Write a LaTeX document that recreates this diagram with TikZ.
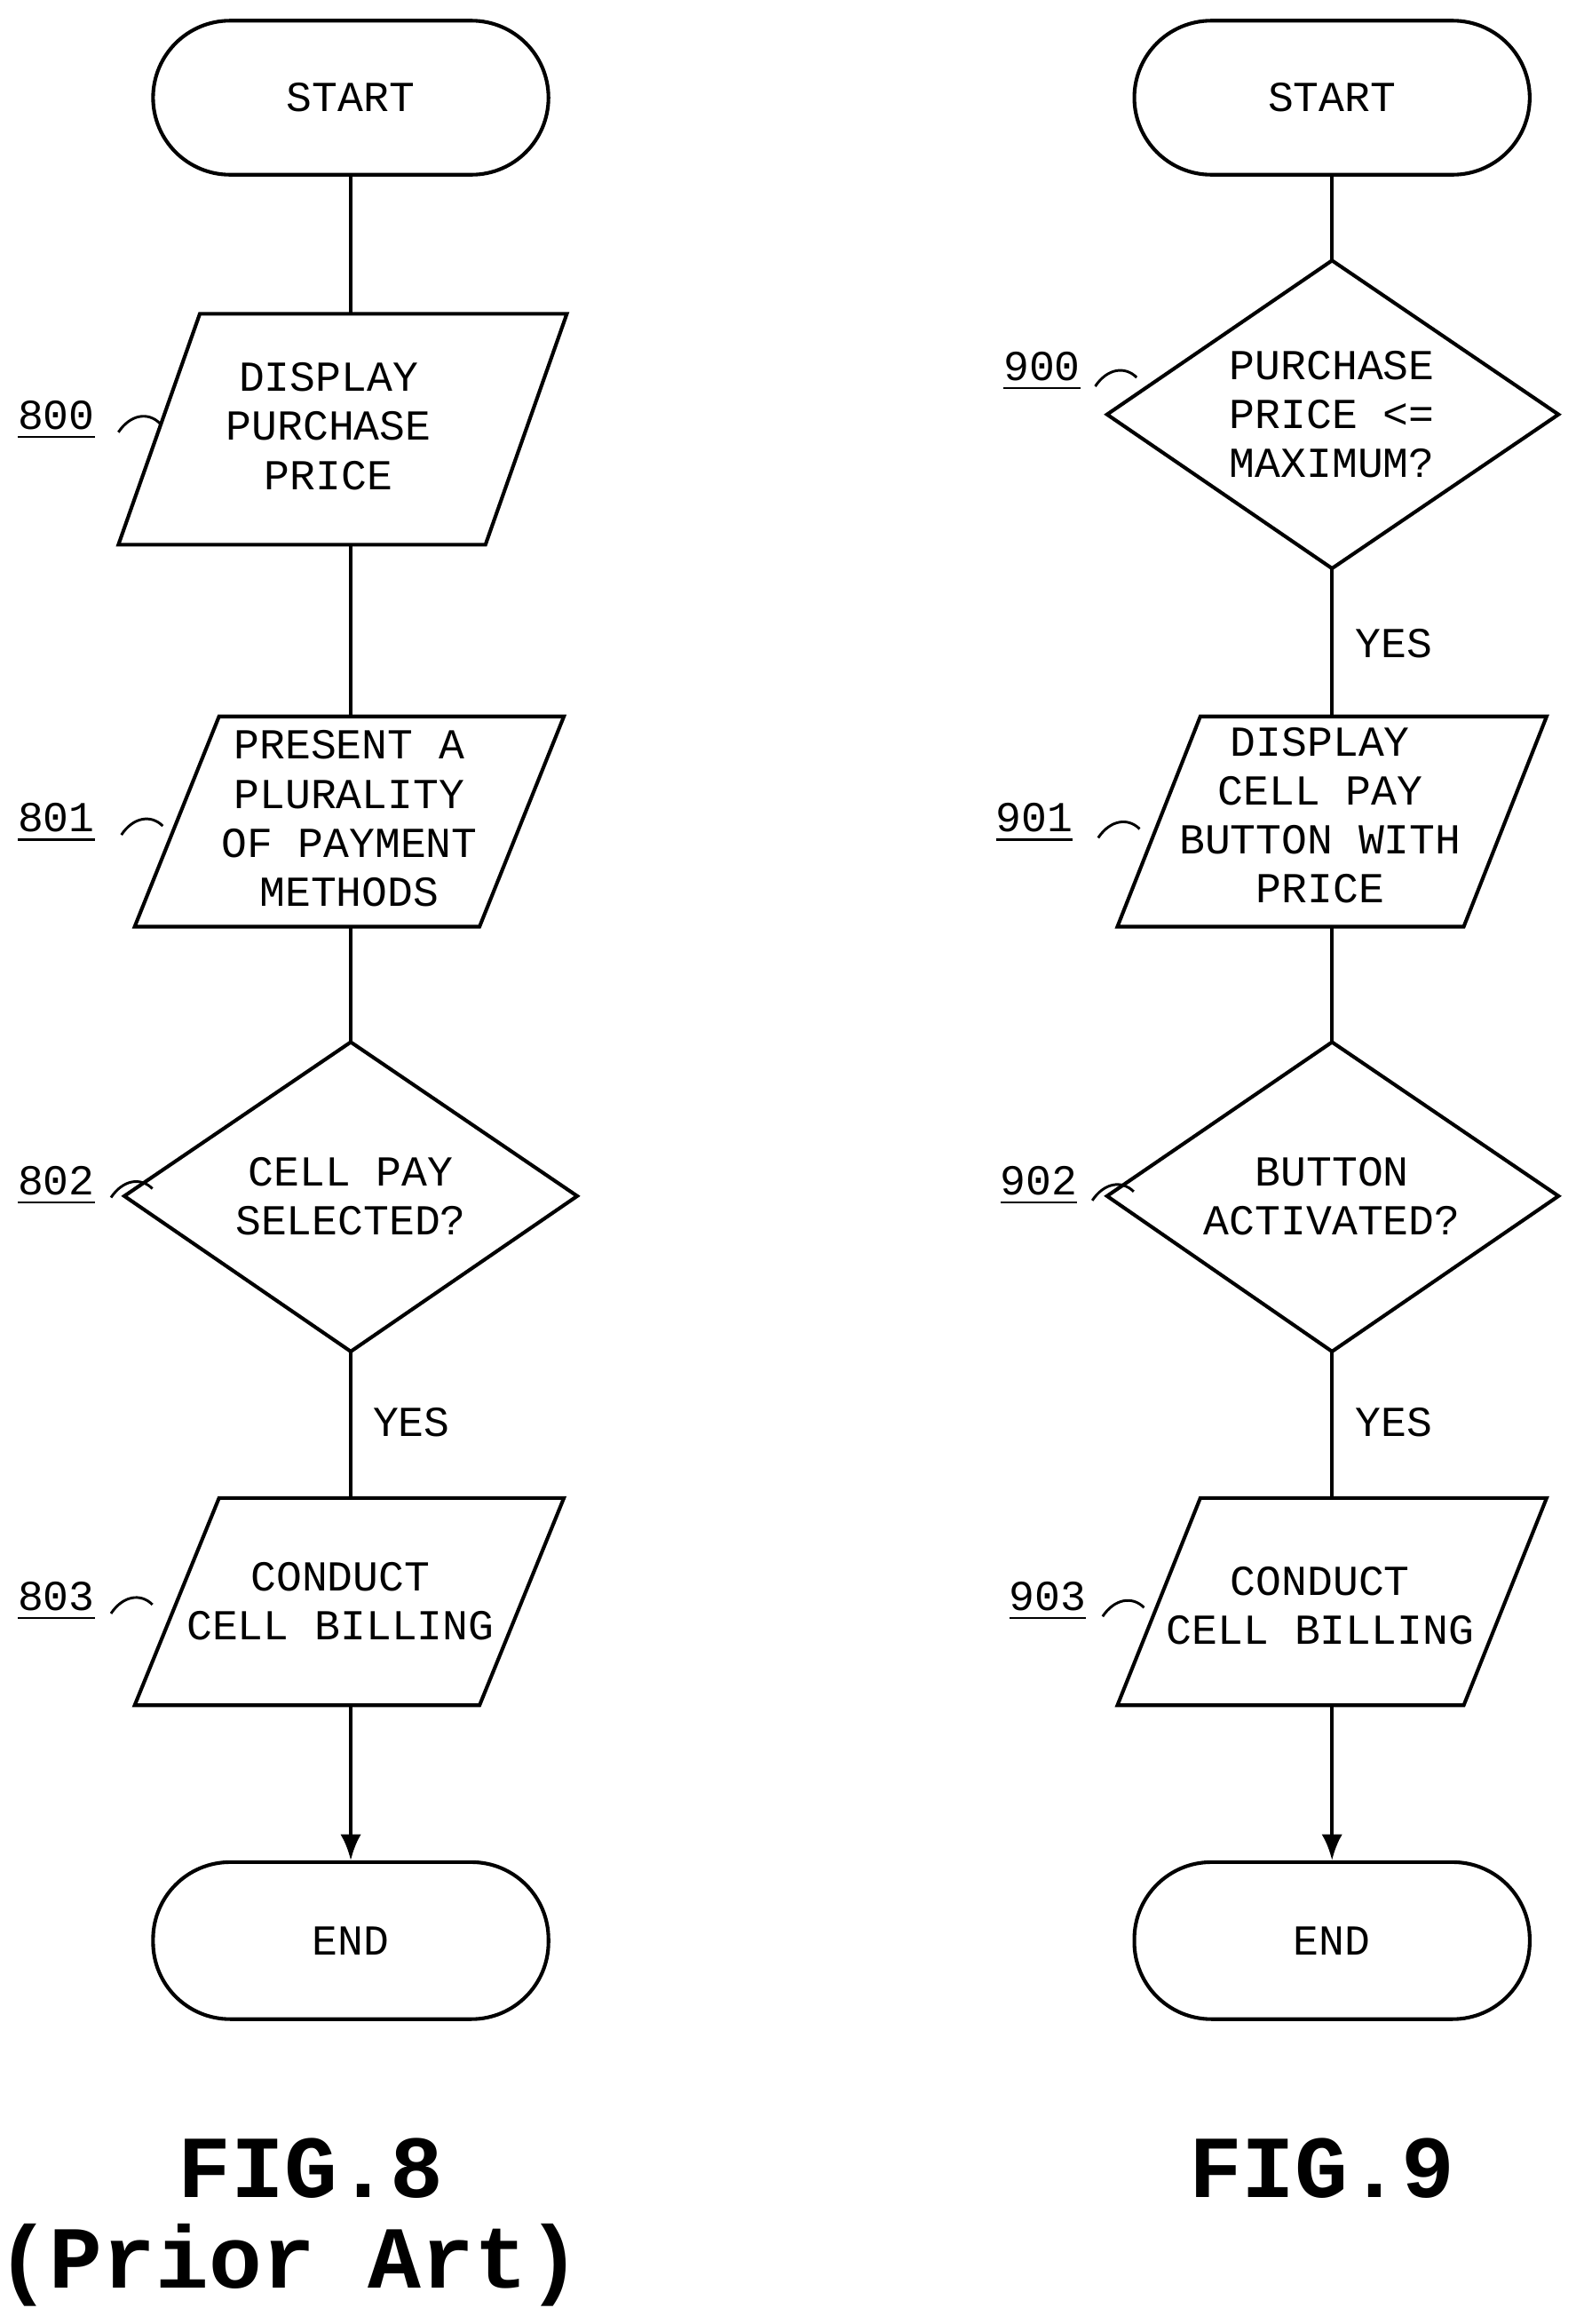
\documentclass[tikz,border=0pt]{standalone}
\usepackage{fontspec}
\setmainfont{Liberation Mono}
\usetikzlibrary{arrows.meta}
\begin{document}
\begin{tikzpicture}[x=0.01cm,y=-0.01cm,
  box/.style={draw,line width=0.7pt},
  txt/.style={font=\fontsize{8.2}{9.4}\selectfont,align=center,inner sep=0pt},
  lab/.style={font=\fontsize{8.2}{9.4}\selectfont,inner sep=1pt},
  fig/.style={font=\bfseries\fontsize{17}{20}\selectfont,inner sep=0pt},
  ln/.style={line width=0.7pt},
  sq/.style={line width=0.5pt}]
\useasboundingbox (0,0) rectangle (1070,1570);
% left column
\node[box,txt,rounded corners=52\pgflinewidth*0+0.52cm,minimum width=2.67cm,minimum height=1.04cm] (s8) at (237,66) {START};
\draw[box] (135,212) coordinate (p0t) -- (383,212) -- (328,368) -- (80,368) -- cycle;
\coordinate (p0t) at (237,212); \coordinate (p0b) at (237,368);
\node[txt] (t800) at (222,288) {DISPLAY\\PURCHASE\\PRICE};
\draw[box] (148,484) -- (381,484) -- (324,626) -- (91,626) -- cycle;
\coordinate (p1t) at (237,484); \coordinate (p1b) at (237,626);
\node[txt] (t801) at (236,553) {PRESENT A\\PLURALITY\\OF PAYMENT\\METHODS};
\draw[box] (237,704) coordinate (d2t) -- (390,808) -- (237,913) coordinate (d2b) -- (84,808) -- cycle;
\node[txt] (t802) at (237,808) {CELL PAY\\SELECTED?};
\draw[box] (148,1012) -- (381,1012) -- (324,1152) -- (91,1152) -- cycle;
\coordinate (p3t) at (237,1012); \coordinate (p3b) at (237,1152);
\node[txt] (t803) at (230,1082) {CONDUCT\\CELL BILLING};
\node[box,txt,rounded corners=0.52cm,minimum width=2.67cm,minimum height=1.06cm] (e8) at (237,1311) {END};
\draw[ln] (s8) -- (p0t); \draw[ln] (p0b) -- (p1t); \draw[ln] (p1b) -- (d2t); \draw[ln] (d2b) -- (p3t);
\draw[ln,-{Latex[length=5pt,width=4pt]}] (p3b) -- (e8);
\node[lab] (y8) at (278,961) {YES};
\foreach \n/\y/\x in {800/284/80,801/556/82,802/801/75,803/1082/75}{
  \node[lab] (l\n) at (38,\y) {\underline{\n}};
  \draw[sq] (\x,\y+8) .. controls (\x+8,\y-4) and (\x+20,\y-6) .. (\x+28,\y+2);
}
\node[fig] (f8) at (210,1465) {FIG.8};
\node[fig] (pa) at (195,1530) {(Prior Art)};
% right column
\node[box,txt,rounded corners=0.52cm,minimum width=2.67cm,minimum height=1.04cm] (s9) at (900,66) {START};
\draw[box] (900,176) coordinate (d0t) -- (1053,280) -- (900,384) coordinate (d0b) -- (748,280) -- cycle;
\node[txt] (t900) at (900,280) {PURCHASE\\PRICE <=\\MAXIMUM?};
\draw[box] (811,484) -- (1045,484) -- (989,626) -- (755,626) -- cycle;
\coordinate (q1t) at (900,484); \coordinate (q1b) at (900,626);
\node[txt] (t901) at (892,551) {DISPLAY\\CELL PAY\\BUTTON WITH\\PRICE};
\draw[box] (900,704) coordinate (e2t) -- (1053,808) -- (900,913) coordinate (e2b) -- (748,808) -- cycle;
\node[txt] (t902) at (900,808) {BUTTON\\ACTIVATED?};
\draw[box] (811,1012) -- (1045,1012) -- (989,1152) -- (755,1152) -- cycle;
\coordinate (q3t) at (900,1012); \coordinate (q3b) at (900,1152);
\node[txt] (t903) at (892,1085) {CONDUCT\\CELL BILLING};
\node[box,txt,rounded corners=0.52cm,minimum width=2.67cm,minimum height=1.06cm] (e9) at (900,1311) {END};
\draw[ln] (s9) -- (d0t); \draw[ln] (d0b) -- (q1t); \draw[ln] (q1b) -- (e2t); \draw[ln] (e2b) -- (q3t);
\draw[ln,-{Latex[length=5pt,width=4pt]}] (q3b) -- (e9);
\node[lab] (y9a) at (942,435) {YES};
\node[lab] (y9b) at (942,961) {YES};
\foreach \n/\y/\lx/\x in {900/251/704/740,901/556/699/742,902/801/702/738,903/1082/708/745}{
  \node[lab] (l\n) at (\lx,\y) {\underline{\n}};
  \draw[sq] (\x,\y+10) .. controls (\x+8,\y-2) and (\x+20,\y-4) .. (\x+28,\y+4);
}
\node[fig] (f9) at (893,1465) {FIG.9};
\end{tikzpicture}
\end{document}
